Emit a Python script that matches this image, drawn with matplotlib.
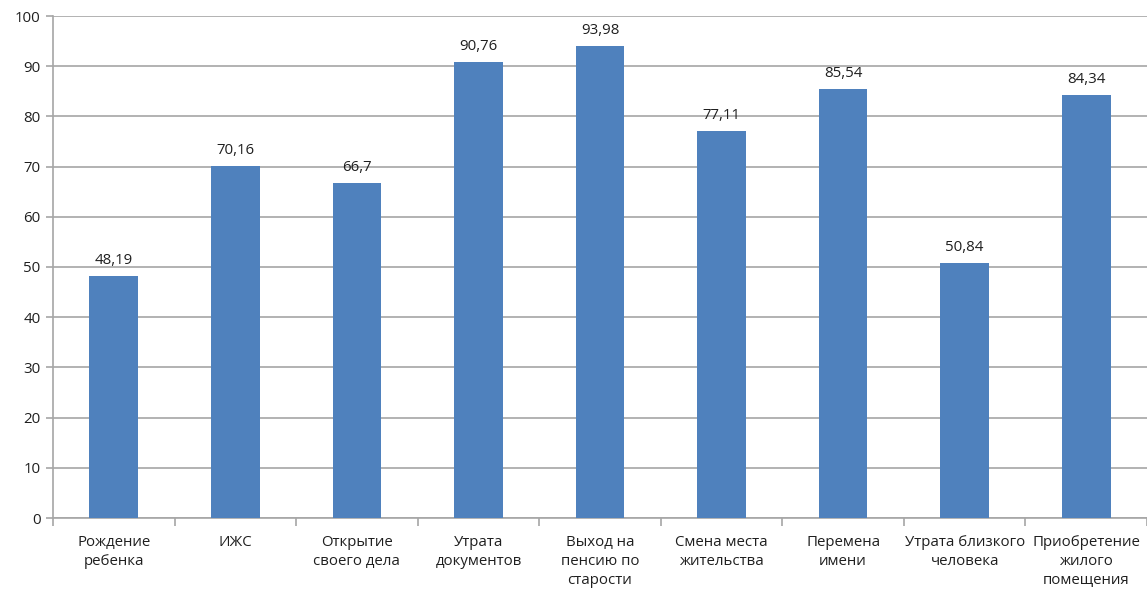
import matplotlib.pyplot as plt
import numpy as np

categories = [
    "Рождение\nребенка",
    "ИЖС",
    "Открытие\nсвоего дела",
    "Утрата\nдокументов",
    "Выход на\nпенсию по\nстарости",
    "Смена места\nжительства",
    "Перемена\nимени",
    "Утрата близкого\nчеловека",
    "Приобретение\nжилого\nпомещения",
]
values = [48.19, 70.16, 66.7, 90.76, 93.98, 77.11, 85.54, 50.84, 84.34]

plt.rcParams["font.family"] = ["Open Sans", "DejaVu Sans"]

fig = plt.figure(figsize=(11.47, 5.91), dpi=100)
ax = fig.add_axes([53 / 1147, 1 - 518 / 591, (1147 - 53) / 1147, (518 - 16) / 591])

x = np.arange(len(categories))
bars = ax.bar(x, values, width=0.4, color="#4F81BD", zorder=3)

for xi, v in zip(x, values):
    label = f"{v:g}".replace(".", ",")
    ax.text(xi, v + 1.6, label, ha="center", va="bottom", fontsize=10.8, color="#1F1F1F")

grid_color = "#A6A6A6"
ax.set_ylim(0, 100)
ax.set_xlim(-0.5, len(categories) - 0.5)
ax.set_yticks(np.arange(0, 101, 10))
ax.yaxis.grid(True, color=grid_color, linewidth=1.2, zorder=0)
ax.tick_params(axis="y", length=5, width=1.2, color=grid_color, labelsize=10.8,
               labelcolor="#1F1F1F", pad=4)

# category labels centred under the bars, tick marks on category boundaries
ax.set_xticks(x)
ax.set_xticklabels(categories, fontsize=10.8, color="#1F1F1F", linespacing=1.4)
ax.tick_params(axis="x", length=0, pad=12)
ax.set_xticks(np.arange(-0.5, len(categories)), minor=True)
ax.tick_params(axis="x", which="minor", length=6, width=1.2, color=grid_color)

for side in ["top", "right"]:
    ax.spines[side].set_visible(False)
for side in ["left", "bottom"]:
    ax.spines[side].set_color(grid_color)
    ax.spines[side].set_linewidth(1.2)

fig.savefig("out.png", dpi=100)
